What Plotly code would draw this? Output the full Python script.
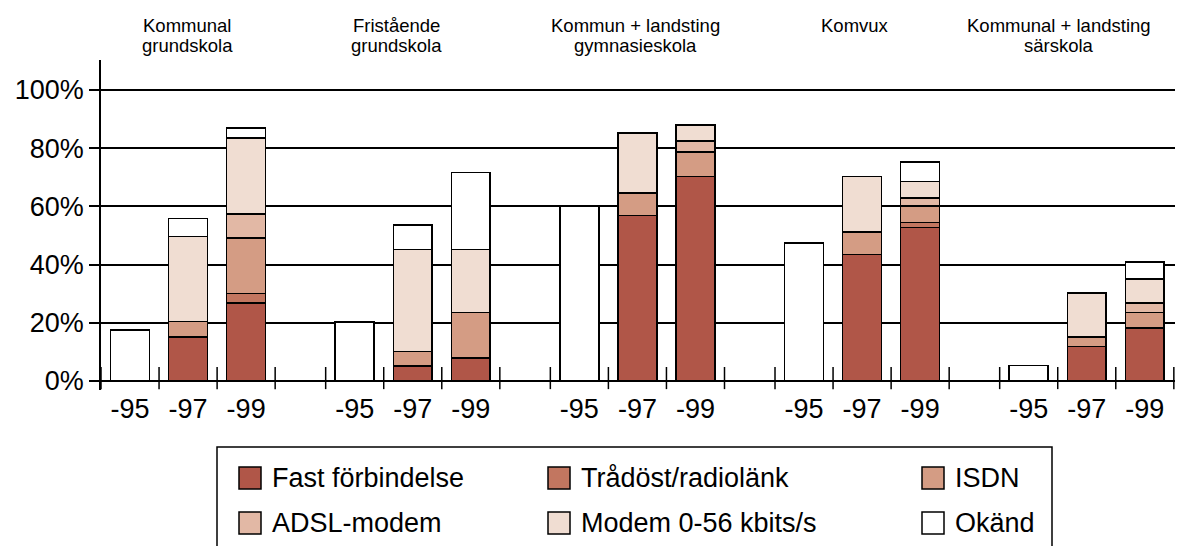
import plotly.graph_objects as go

# ---------------- data ----------------
groups = ["Kommunal<br>grundskola", "Fristående<br>grundskola",
          "Kommun + landsting<br>gymnasieskola", "Komvux",
          "Kommunal + landsting<br>särskola"]
years = ["-95", "-97", "-99"]

series_names = ["Fast förbindelse", "Trådöst/radiolänk", "ISDN",
                "ADSL-modem", "Modem 0-56 kbits/s", "Okänd"]

# segment heights (%) per bar, order: g1(-95,-97,-99), g2(...), ...
fast = [None, 15.2, 26.9,  None, 5.2, 7.8,   None, 56.8, 70.2,  None, 43.5, 52.7,  None, 11.8, 18.2]
trad = [None, None, 3.2,   None, None, None, None, None, None,  None, None, 1.8,   None, None, None]
isdn = [None, 5.3, 19.1,   None, 5.0, 15.7,  None, 7.7, 8.4,    None, 7.7, 5.6,    None, 3.3, 5.3]
adsl = [None, None, 8.2,   None, None, None, None, None, 3.9,   None, None, 2.7,   None, None, 3.4]
modem = [None, 29.1, 26.2, None, 35.0, 21.7, None, 20.8, 5.4,   None, 19.0, 5.7,   None, 15.2, 8.2]
okand = [17.5, 6.3, 3.4,   20.2, 8.4, 26.4,  60.1, None, None,  47.5, None, 6.8,   5.3, None, 5.8]

series_values = [fast, trad, isdn, adsl, modem, okand]
colors = ["#B05648", "#C27660", "#D49C84", "#E2B8A5", "#F0DDD2", "#FFFFFF"]

yticks = [0, 20, 40, 60, 80, 100]
ytick_text = ["0%", "20%", "40%", "60%", "80%", "100%"]

# ---------------- layout helpers ----------------
W, H = 1186, 546
L, R, T, B = 101, 11, 60, 156
PERIOD = 3.87          # group spacing in slot units
XMAX = 4 * PERIOD + 3 + 0.02
YMIN, YMAX = -3.1, 110.3
FONT = "Liberation Sans, Arial, Helvetica, sans-serif"

def px_x(px):
    return (px - L) / (W - L - R)

def px_y(py):
    return (H - B - py) / (H - T - B)

xs, xt = [], []
for g in range(len(groups)):
    for s in range(3):
        xs.append(g * PERIOD + s + 0.5)
        xt.append(years[s])

fig = go.Figure()
for name, vals, col in zip(series_names, series_values, colors):
    fig.add_trace(go.Bar(
        x=xs, y=vals, name=name, width=0.67,
        marker=dict(color=col, line=dict(color="black", width=1.6)),
        showlegend=False, hoverinfo="skip"))

# x tick marks crossing the axis at slot boundaries
shapes = []
for g in range(len(groups)):
    for k in range(4):
        xb = g * PERIOD + k
        shapes.append(dict(type="line", xref="x", yref="y", x0=xb, x1=xb,
                           y0=-2.8, y1=4.8, line=dict(color="black", width=1.5)))

annotations = []
# group titles
title_px = [187, 396, 635, 855, 1059]
for gname, tpx in zip(groups, title_px):
    lines = gname.split("<br>")
    for i, ln in enumerate(lines):
        annotations.append(dict(text=ln, xref="paper", yref="paper",
                                x=px_x(tpx), y=px_y(25 + 21 * i),
                                xanchor="center", yanchor="middle", showarrow=False,
                                font=dict(family=FONT, size=18.5, color="black")))

# legend box
shapes.append(dict(type="rect", xref="paper", yref="paper",
                   x0=px_x(217), x1=px_x(1052), y0=px_y(570), y1=px_y(447),
                   line=dict(color="black", width=1.5), fillcolor="rgba(0,0,0,0)"))
leg_cols = [239, 548, 922]
leg_rows = [478, 523]
for i, (name, col) in enumerate(zip(series_names, colors)):
    r, c = divmod(i, 3)
    sx, sy = leg_cols[c], leg_rows[r]
    shapes.append(dict(type="rect", xref="paper", yref="paper",
                       x0=px_x(sx), x1=px_x(sx + 22), y0=px_y(sy + 11), y1=px_y(sy - 11),
                       line=dict(color="black", width=1.5), fillcolor=col))
    annotations.append(dict(text=name, xref="paper", yref="paper",
                            x=px_x(sx + 31), y=px_y(sy), xanchor="left", yanchor="middle",
                            showarrow=False, font=dict(family=FONT, size=27, color="black")))

fig.update_layout(
    width=W, height=H, barmode="stack",
    margin=dict(l=L, r=R, t=T, b=B, autoexpand=False),
    paper_bgcolor="white", plot_bgcolor="white",
    font=dict(family=FONT, color="black"),
    shapes=shapes, annotations=annotations,
    xaxis=dict(range=[0, XMAX], tickmode="array", tickvals=xs, ticktext=xt,
               showgrid=False, zeroline=False, showline=False, ticks="",
               tickfont=dict(size=27, color="black")),
    yaxis=dict(range=[YMIN, YMAX], tickmode="array", tickvals=yticks, ticktext=ytick_text,
               showgrid=True, gridcolor="black", gridwidth=1.5,
               zeroline=True, zerolinecolor="black", zerolinewidth=1.5,
               showline=True, linecolor="black", linewidth=1.5,
               ticks="outside", ticklen=10, tickwidth=1.5, tickcolor="black",
               tickfont=dict(size=27, color="black")),
)

fig.write_html("out.html", config={"displayModeBar": False},
               post_script="document.body.style.margin='0';")
